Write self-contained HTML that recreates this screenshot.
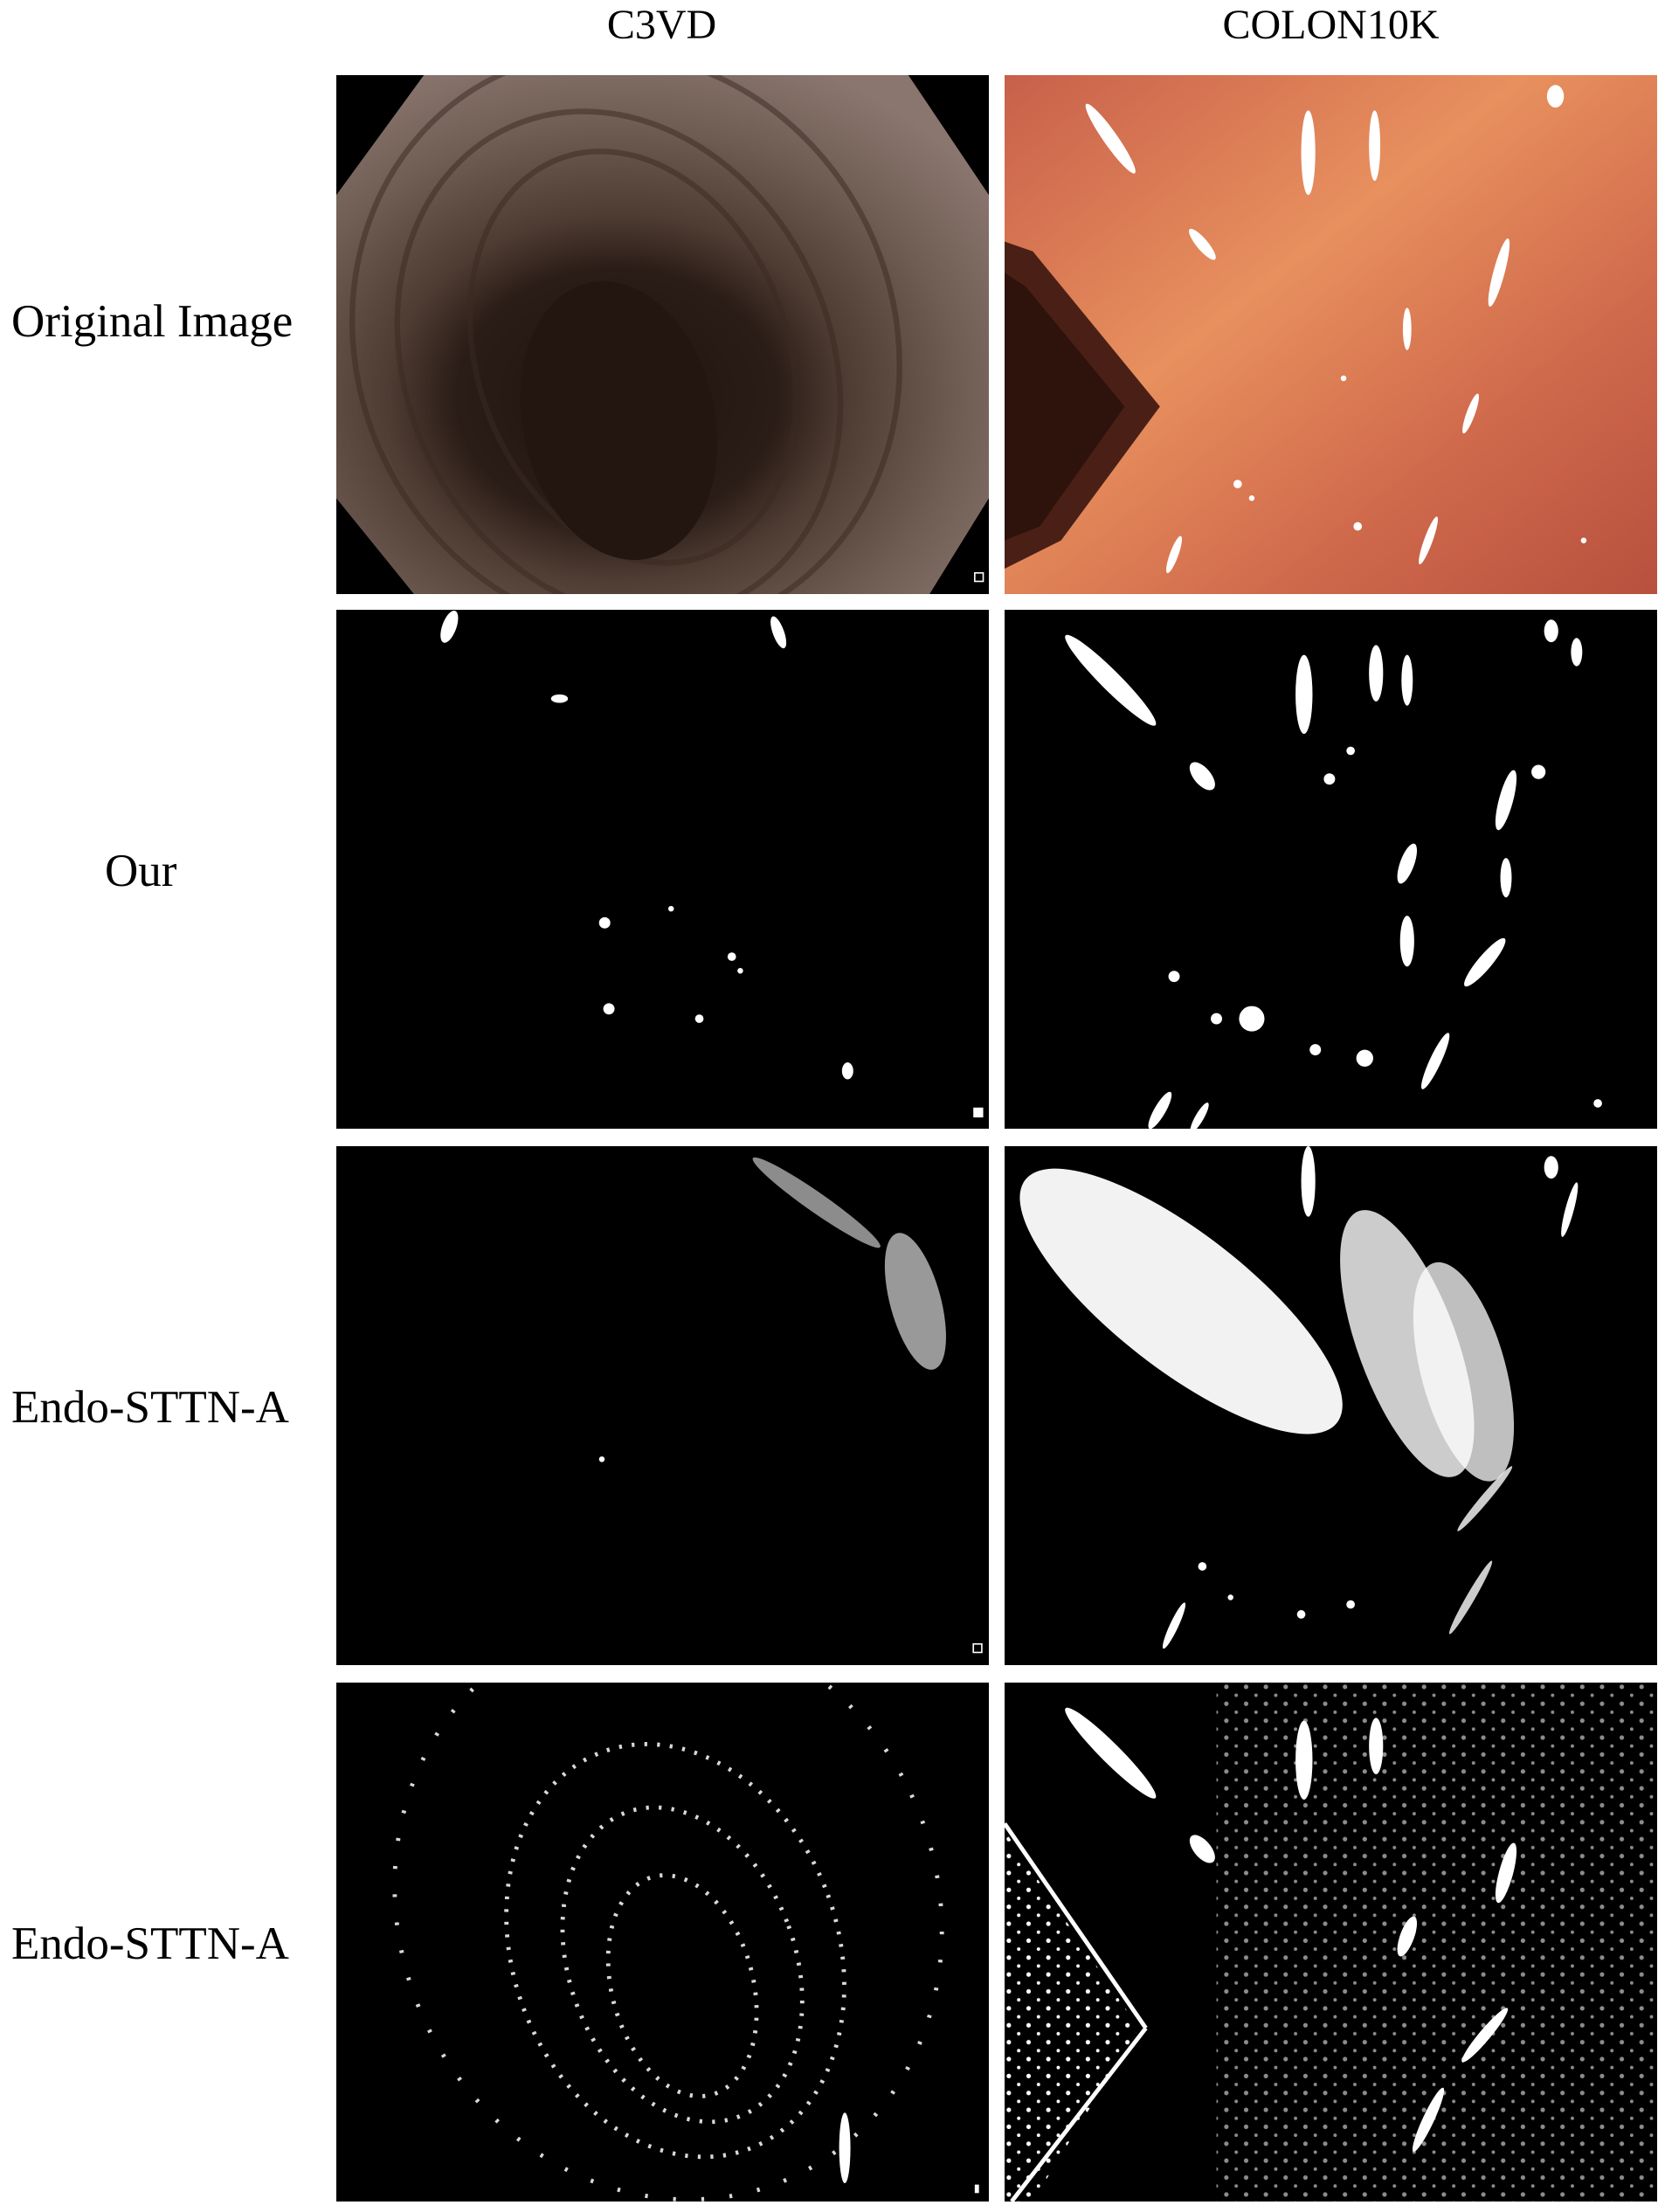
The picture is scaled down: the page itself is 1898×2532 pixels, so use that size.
<!DOCTYPE html>
<html><head><meta charset="utf-8">
<style>
html,body{margin:0;padding:0;background:#fff;}
body{width:1898px;height:2532px;position:relative;overflow:hidden;font-family:"Liberation Serif",serif;color:#000;}
.h{position:absolute;top:0;font-size:48px;line-height:58px;text-align:center;width:747px;}
.l{position:absolute;left:13px;font-size:53px;line-height:60px;white-space:nowrap;}
.p{position:absolute;width:747px;height:594px;background:#000;overflow:hidden;}
.p svg{width:747px;height:594px;display:block;}
</style></head><body>
<div class="h" style="left:384px">C3VD</div>
<div class="h" style="left:1150px">COLON10K</div>

<div class="l" style="top:338px">Original Image</div>
<div class="l" style="top:967px;left:120px">Our</div>
<div class="l" style="top:1581px">Endo-STTN-A</div>
<div class="l" style="top:2195px">Endo-STTN-A</div>

<!-- Row 1 -->
<div class="p" style="left:385px;top:86px">
<svg viewBox="0 0 462 368" preserveAspectRatio="none">
<defs><radialGradient id="g1" cx="0.43" cy="0.62" r="0.7">
<stop offset="0" stop-color="#201410"/><stop offset="0.35" stop-color="#2a1c16"/><stop offset="0.5" stop-color="#4e3c33"/><stop offset="0.75" stop-color="#6f5d54"/><stop offset="1" stop-color="#8a766e"/></radialGradient></defs>
<polygon points="62,0 405,0 462,85 462,300 420,368 55,368 0,300 0,85" fill="url(#g1)"/>
<g fill="none" stroke="#3a2a22" stroke-width="4" opacity="0.5">
<ellipse cx="210" cy="200" rx="110" ry="150" transform="rotate(-20 210 200)"/>
<ellipse cx="200" cy="205" rx="150" ry="185" transform="rotate(-25 200 205)"/>
<ellipse cx="205" cy="190" rx="190" ry="210" transform="rotate(-25 205 190)"/>
</g>
<ellipse cx="200" cy="245" rx="68" ry="100" fill="#231611" transform="rotate(-12 200 245)"/>
<rect x="452" y="353" width="6" height="6" fill="none" stroke="#fff" stroke-width="1"/>
</svg></div>

<div class="p" style="left:1150px;top:86px">
<svg viewBox="0 0 462 368" preserveAspectRatio="none">
<defs><linearGradient id="g2" x1="0" y1="0" x2="1" y2="1">
<stop offset="0" stop-color="#c8604a"/><stop offset="0.4" stop-color="#e8905e"/><stop offset="0.7" stop-color="#d06a4c"/><stop offset="1" stop-color="#b8503e"/></linearGradient></defs>
<rect width="462" height="368" fill="url(#g2)"/>
<polygon points="0,118 20,125 110,235 40,330 0,350" fill="#4a2016"/>
<polygon points="0,140 15,150 85,235 25,320 0,330" fill="#2e130c"/>
<g fill="#fff">
<ellipse cx="75" cy="45" rx="5" ry="30" transform="rotate(-35 75 45)"/>
<ellipse cx="215" cy="55" rx="5" ry="30"/>
<ellipse cx="262" cy="50" rx="4" ry="25"/>
<ellipse cx="390" cy="15" rx="6" ry="8"/>
<ellipse cx="140" cy="120" rx="4" ry="14" transform="rotate(-40 140 120)"/>
<ellipse cx="350" cy="140" rx="4" ry="25" transform="rotate(15 350 140)"/>
<ellipse cx="285" cy="180" rx="3" ry="15"/>
<ellipse cx="330" cy="240" rx="3" ry="15" transform="rotate(20 330 240)"/>
<ellipse cx="300" cy="330" rx="3" ry="18" transform="rotate(20 300 330)"/>
<ellipse cx="120" cy="340" rx="3" ry="14" transform="rotate(20 120 340)"/>
<circle cx="165" cy="290" r="3"/><circle cx="175" cy="300" r="2"/><circle cx="250" cy="320" r="3"/><circle cx="240" cy="215" r="2"/><circle cx="410" cy="330" r="2"/>
</g></svg></div>

<!-- Row 2 -->
<div class="p" style="left:385px;top:698px">
<svg viewBox="0 0 462 368" preserveAspectRatio="none"><g fill="#fff">
<ellipse cx="80" cy="12" rx="5" ry="12" transform="rotate(20 80 12)"/>
<ellipse cx="313" cy="16" rx="4" ry="12" transform="rotate(-20 313 16)"/>
<ellipse cx="158" cy="63" rx="6" ry="3"/>
<circle cx="190" cy="222" r="4"/><circle cx="237" cy="212" r="2"/><circle cx="280" cy="246" r="3"/><circle cx="286" cy="256" r="2"/>
<circle cx="193" cy="283" r="4"/><circle cx="257" cy="290" r="3"/><ellipse cx="362" cy="327" rx="4" ry="6"/>
<rect x="451" y="353" width="7" height="7"/></g></svg></div>

<div class="p" style="left:1150px;top:698px">
<svg viewBox="0 0 462 368" preserveAspectRatio="none"><g fill="#fff">
<ellipse cx="75" cy="50" rx="7" ry="45" transform="rotate(-45 75 50)"/>
<ellipse cx="212" cy="60" rx="6" ry="28"/>
<ellipse cx="263" cy="45" rx="5" ry="20"/><ellipse cx="285" cy="50" rx="4" ry="18"/>
<ellipse cx="387" cy="15" rx="5" ry="8"/><ellipse cx="405" cy="30" rx="4" ry="10"/>
<ellipse cx="140" cy="118" rx="6" ry="12" transform="rotate(-40 140 118)"/>
<ellipse cx="355" cy="135" rx="5" ry="22" transform="rotate(15 355 135)"/>
<circle cx="378" cy="115" r="5"/><circle cx="230" cy="120" r="4"/><circle cx="245" cy="100" r="3"/>
<ellipse cx="285" cy="180" rx="5" ry="15" transform="rotate(20 285 180)"/>
<ellipse cx="355" cy="190" rx="4" ry="14"/>
<ellipse cx="285" cy="235" rx="5" ry="18"/>
<ellipse cx="340" cy="250" rx="5" ry="22" transform="rotate(40 340 250)"/>
<circle cx="175" cy="290" r="9"/><circle cx="150" cy="290" r="4"/><circle cx="120" cy="260" r="4"/>
<circle cx="220" cy="312" r="4"/><circle cx="255" cy="318" r="6"/>
<ellipse cx="305" cy="320" rx="4" ry="22" transform="rotate(25 305 320)"/>
<ellipse cx="110" cy="355" rx="4" ry="15" transform="rotate(30 110 355)"/>
<ellipse cx="138" cy="360" rx="3" ry="12" transform="rotate(30 138 360)"/>
<circle cx="420" cy="350" r="3"/></g></svg></div>

<!-- Row 3 -->
<div class="p" style="left:385px;top:1312px">
<svg viewBox="0 0 462 368" preserveAspectRatio="none">
<g fill="#fff">
<ellipse cx="340" cy="40" rx="55" ry="7" transform="rotate(35 340 40)" opacity="0.55"/>
<ellipse cx="410" cy="110" rx="18" ry="50" transform="rotate(-15 410 110)" opacity="0.6"/>
<circle cx="188" cy="222" r="2"/>
<rect x="451" y="353" width="6" height="6" fill="none" stroke="#fff"/></g></svg></div>

<div class="p" style="left:1150px;top:1312px">
<svg viewBox="0 0 462 368" preserveAspectRatio="none"><g fill="#fff">
<ellipse cx="125" cy="110" rx="140" ry="48" transform="rotate(38 125 110)" opacity="0.95"/>
<ellipse cx="285" cy="140" rx="100" ry="35" transform="rotate(70 285 140)" opacity="0.8"/>
<ellipse cx="325" cy="160" rx="80" ry="30" transform="rotate(75 325 160)" opacity="0.75"/>
<ellipse cx="215" cy="25" rx="5" ry="25"/><ellipse cx="387" cy="15" rx="5" ry="8"/>
<ellipse cx="400" cy="45" rx="3" ry="20" transform="rotate(15 400 45)"/>
<ellipse cx="330" cy="320" rx="3" ry="30" transform="rotate(30 330 320)" opacity="0.8"/>
<ellipse cx="120" cy="340" rx="3" ry="18" transform="rotate(25 120 340)"/>
<circle cx="140" cy="298" r="3"/><circle cx="160" cy="320" r="2"/><circle cx="210" cy="332" r="3"/><circle cx="245" cy="325" r="3"/>
<ellipse cx="340" cy="250" rx="3" ry="30" transform="rotate(40 340 250)" opacity="0.8"/></g></svg></div>

<!-- Row 4 -->
<div class="p" style="left:385px;top:1926px">
<svg viewBox="0 0 462 368" preserveAspectRatio="none"><g fill="none" stroke="#fff" stroke-width="3" stroke-dasharray="2 7" opacity="0.85">
<ellipse cx="240" cy="190" rx="115" ry="150" transform="rotate(-20 240 190)"/>
<ellipse cx="245" cy="200" rx="80" ry="115" transform="rotate(-20 245 200)"/>
<ellipse cx="245" cy="215" rx="50" ry="80" transform="rotate(-15 245 215)"/>
<ellipse cx="235" cy="160" rx="190" ry="210" transform="rotate(-25 235 160)" stroke-dasharray="2 18"/>
</g><g fill="#fff"><ellipse cx="360" cy="330" rx="4" ry="25"/><rect x="452" y="356" width="3" height="6"/></g></svg></div>

<div class="p" style="left:1150px;top:1926px">
<svg viewBox="0 0 462 368" preserveAspectRatio="none">
<defs><pattern id="sp" width="14" height="12" patternUnits="userSpaceOnUse"><circle cx="3" cy="3" r="1.6" fill="#fff"/><circle cx="10" cy="9" r="1.2" fill="#fff"/></pattern></defs>
<polygon points="0,105 95,245 20,368 0,368" fill="url(#sp)"/>
<rect x="150" y="0" width="312" height="368" fill="url(#sp)" opacity="0.55"/>
<line x1="0" y1="100" x2="100" y2="245" stroke="#fff" stroke-width="3"/>
<line x1="100" y1="245" x2="5" y2="368" stroke="#fff" stroke-width="3"/>
<g fill="#fff">
<ellipse cx="75" cy="50" rx="7" ry="45" transform="rotate(-45 75 50)"/>
<ellipse cx="212" cy="55" rx="6" ry="28"/><ellipse cx="263" cy="45" rx="5" ry="20"/>
<ellipse cx="140" cy="118" rx="6" ry="12" transform="rotate(-40 140 118)"/>
<ellipse cx="355" cy="135" rx="5" ry="22" transform="rotate(15 355 135)"/>
<ellipse cx="285" cy="180" rx="5" ry="15" transform="rotate(20 285 180)"/>
<ellipse cx="300" cy="310" rx="4" ry="25" transform="rotate(25 300 310)"/>
<ellipse cx="340" cy="250" rx="4" ry="25" transform="rotate(40 340 250)"/></g></svg></div>
</body></html>
